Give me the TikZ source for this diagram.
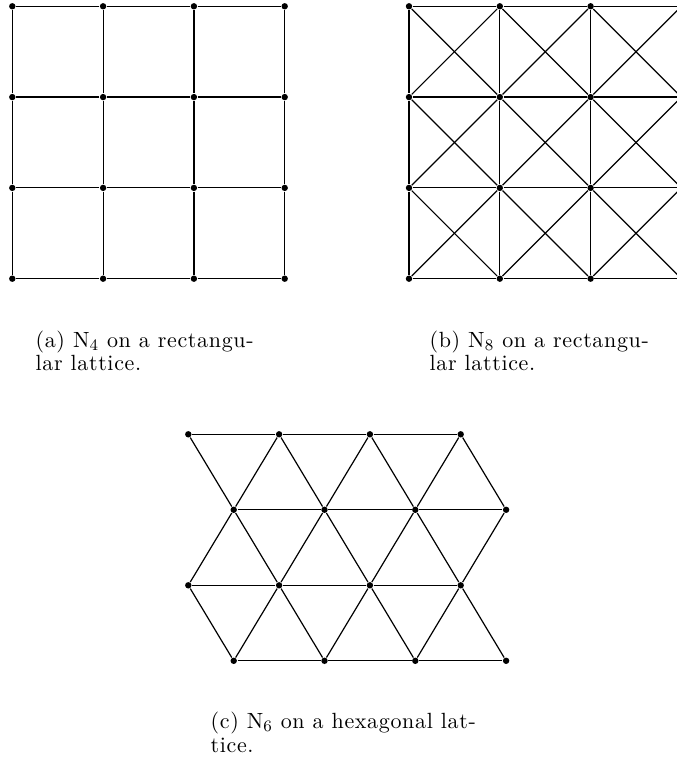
\documentclass[tikz,border=0pt]{standalone}
\usepackage{fontspec}
\newfontfamily\capfont{lmroman10-regular}[Extension=.otf, LetterSpace=3]
\usetikzlibrary{positioning}
\begin{document}
\begin{tikzpicture}[x=0.5pt, y=-0.5pt, line width=0.6pt,
  dot/.style={circle, fill=black, inner sep=0pt, minimum size=3.2pt},
  subcap/.style={anchor=base west, align=left, inner sep=0pt,
    font=\capfont\fontsize{11}{11.7}\selectfont}]
  \useasboundingbox (0,0) rectangle (676,763);
  % (a) four neighbours
  \foreach \i in {0,...,3} \foreach \j in {0,...,3}
    \node[dot] (a\i\j) at (12.3+90.8*\i, 6.3+90.8*\j) {};
  \foreach \i in {0,...,3} \foreach \j [count=\k] in {0,...,2} {
    \draw (a\i\j) -- (a\i\k); \draw (a\j\i) -- (a\k\i); }
  % (b) eight neighbours
  \foreach \i in {0,...,3} \foreach \j in {0,...,3}
    \node[dot] (b\i\j) at (409+90.8*\i, 6.3+90.8*\j) {};
  \foreach \i in {0,...,3} \foreach \j [count=\k] in {0,...,2} {
    \draw (b\i\j) -- (b\i\k); \draw (b\j\i) -- (b\k\i); }
  \foreach \i [count=\k] in {0,...,2} \foreach \j [count=\l] in {0,...,2} {
    \draw (b\i\j) -- (b\k\l); \draw (b\k\j) -- (b\i\l); }
  % (c) six neighbours
  \foreach \r in {0,...,3} \foreach \c in {0,...,3} {
    \pgfmathsetmacro\sh{mod(\r,2)*45.4}
    \node[dot] (c\r\c) at (188.3+90.8*\c+\sh, 434.3+75.5*\r) {}; }
  \foreach \r in {0,...,3} \foreach \c [count=\d] in {0,...,2}
    \draw (c\r\c) -- (c\r\d);
  \foreach \r/\s in {0/1,1/2,2/3} \foreach \c in {0,...,3}
    \draw (c\r\c) -- (c\s\c);
  \foreach \r/\s in {0/1,2/3} \foreach \c/\d in {1/0,2/1,3/2}
    \draw (c\r\c) -- (c\s\d);
  \foreach \c/\d in {0/1,1/2,2/3} \draw (c1\c) -- (c2\d);
  % captions (base = last line)
  \node[subcap] (capa) at (35,370.5) {(a) N$_4$ on a rectangu-\\lar lattice.};
  \node[subcap] (capb) at (429,370.5) {(b) N$_8$ on a rectangu-\\lar lattice.};
  \node[subcap] (capc) at (210,752) {(c) N$_6$ on a hexagonal lat-\\tice.};
\end{tikzpicture}
\end{document}
